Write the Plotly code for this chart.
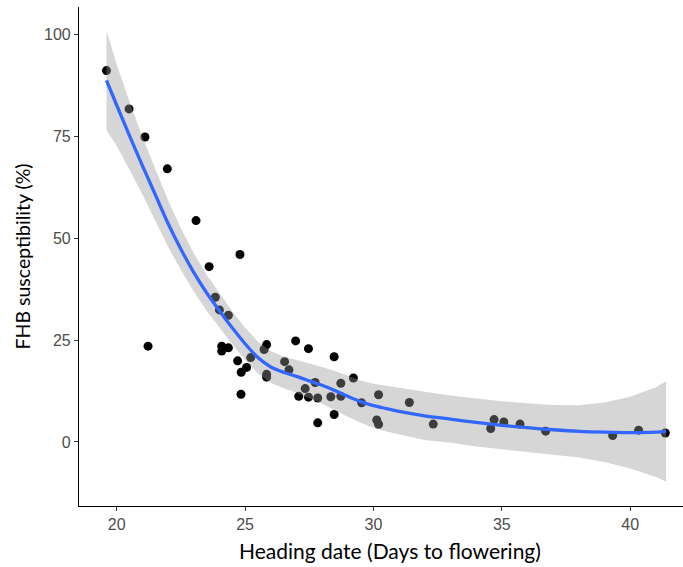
import plotly.graph_objects as go

# Observed lines: heading date (days to flowering) vs FHB susceptibility (%)
heading_days = [
    19.6, 20.48, 21.1, 21.97, 23.09, 24.8, 23.6, 23.84, 24.0, 24.35,
    21.22, 24.09, 24.09, 24.35, 24.71, 24.85, 25.06, 25.22, 24.84, 25.74,
    25.84, 25.84, 25.84, 26.54, 26.71, 26.97, 27.09, 27.34, 27.47, 27.47,
    27.73, 27.83, 27.83, 28.34, 28.47, 28.47, 28.73, 28.73, 29.22, 29.54,
    30.2, 30.13, 30.2, 31.4, 32.33, 34.57, 34.7, 35.08, 35.71, 36.71,
    39.32, 40.33, 41.37,
]
fhb_pct = [
    91.1, 81.7, 74.8, 67.0, 54.3, 46.0, 43.0, 35.5, 32.4, 31.1,
    23.5, 23.5, 22.3, 23.1, 19.9, 17.1, 18.3, 20.7, 11.7, 22.7,
    23.9, 16.6, 15.9, 19.7, 17.7, 24.8, 11.2, 13.1, 11.0, 22.9,
    14.6, 10.8, 4.7, 11.1, 20.9, 6.75, 14.4, 11.2, 15.7, 9.6,
    11.6, 5.4, 4.35, 9.7, 4.4, 3.3, 5.5, 4.9, 4.4, 2.65,
    1.6, 2.9, 2.2,
]

# Loess smoother with its confidence band
smooth_x = [19.6, 20.0, 20.5, 21.0, 21.5, 22.0, 22.5, 23.0, 23.5, 24.0,
            24.5, 25.0, 25.5, 26.0, 26.5, 27.0, 27.5, 28.0, 28.5, 29.0,
            29.5, 30.0, 30.5, 31.0, 32.0, 33.0, 34.0, 35.0, 36.0, 37.0,
            38.0, 39.0, 40.0, 41.0, 41.4]
smooth_fit = [88.7, 82.6, 75.1, 67.8, 60.7, 53.6, 47.3, 41.6, 36.6, 32.2,
              28.0, 24.1, 20.7, 18.4, 17.1, 16.1, 15.0, 13.9, 12.6, 11.2,
              9.9, 8.9, 8.2, 7.5, 6.4, 5.6, 4.8, 4.1, 3.5, 3.0,
              2.6, 2.4, 2.3, 2.4, 2.6]
smooth_upper = [100.9, 92.6, 83.4, 74.9, 67.0, 59.3, 52.4, 46.3, 41.0, 36.4,
                32.05, 28.05, 24.6, 22.25, 21.0, 20.1, 19.3, 18.4, 17.4, 16.2,
                15.1, 14.3, 13.8, 13.2, 12.3, 11.4, 10.7, 10.0, 9.5, 9.1,
                9.0, 9.7, 11.1, 13.4, 14.9]
smooth_lower = [76.5, 72.6, 66.8, 60.7, 54.4, 47.9, 42.2, 36.9, 32.2, 28.0,
                23.95, 20.15, 16.8, 14.55, 13.2, 12.1, 10.7, 9.4, 7.8, 6.2,
                4.7, 3.5, 2.6, 1.8, 0.5, -0.2, -1.1, -1.8, -2.5, -3.1,
                -3.8, -4.9, -6.5, -8.6, -9.7]

x_ticks = [20, 25, 30, 35, 40]
y_ticks = [0, 25, 50, 75, 100]

fig = go.Figure()

# points first, so the translucent band shades the ones it covers
fig.add_trace(go.Scatter(
    x=heading_days, y=fhb_pct, mode="markers",
    marker=dict(size=9, color="black", line=dict(width=0)),
    hoverinfo="x+y", showlegend=False,
))

fig.add_trace(go.Scatter(
    x=smooth_x + smooth_x[::-1],
    y=smooth_upper + smooth_lower[::-1],
    mode="lines", fill="toself", fillcolor="rgba(153,153,153,0.4)",
    line=dict(width=0), hoverinfo="skip", showlegend=False,
))

fig.add_trace(go.Scatter(
    x=smooth_x, y=smooth_fit, mode="lines",
    line=dict(color="#3366FF", width=3.3, shape="spline", smoothing=0.8),
    showlegend=False,
))

tick_font = dict(family="Liberation Sans, Arial, sans-serif", size=16, color="#4d4d4d")

# x-axis title placed as an annotation so it sits a little right of the
# visible plot-area centre
fig.add_annotation(
    text="Heading date (Days to flowering)",
    xref="paper", yref="paper", x=0.515, y=0, yshift=-44,
    xanchor="center", yanchor="middle", showarrow=False,
    font=dict(family="Lato, Open Sans, sans-serif", size=21, color="black"),
)

fig.update_layout(
    width=683, height=567,
    margin=dict(l=79, r=0, t=7, b=61),
    plot_bgcolor="white", paper_bgcolor="white",
    xaxis=dict(
        range=[18.53, 42.06], tickvals=x_ticks, ticktext=[str(v) for v in x_ticks],
        showgrid=False, zeroline=False, showline=True, linecolor="black", linewidth=1.2,
        ticks="outside", ticklen=4, tickwidth=1.1, tickcolor="#333333",
        tickfont=tick_font,
    ),
    yaxis=dict(
        range=[-15.7, 106.7], tickvals=y_ticks, ticktext=[str(v) for v in y_ticks],
        showgrid=False, zeroline=False, showline=True, linecolor="black", linewidth=1.2,
        ticks="outside", ticklen=4, tickwidth=1.1, tickcolor="#333333",
        tickfont=tick_font,
        title=dict(text="FHB susceptibility (%)",
                   font=dict(family="Lato, Open Sans, sans-serif", size=19.5, color="black"),
                   standoff=8),
    ),
)

fig.write_html("out.html")
